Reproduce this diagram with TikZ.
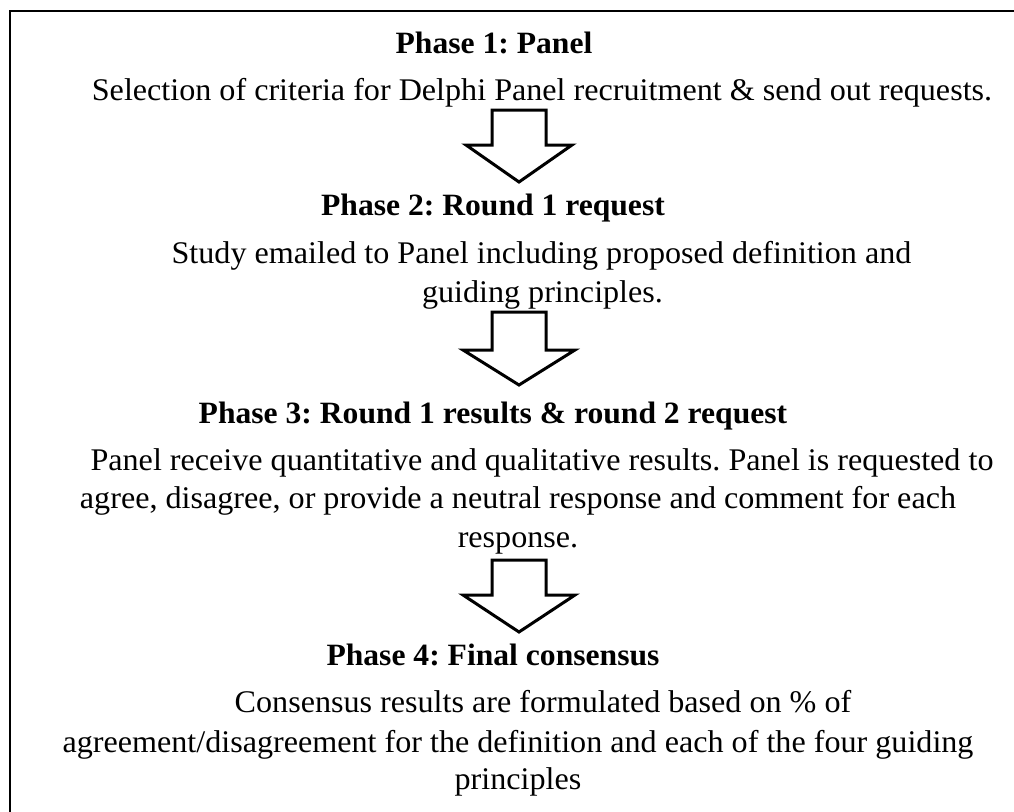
\documentclass[tikz,border=0pt]{standalone}
\usepackage{fontspec}
\setmainfont{Liberation Serif}[FakeStretch=1.02]
\frenchspacing
\tikzset{
  pics/blockarrow/.style args={#1/#2/#3}{code={
    \draw[blk] (-27,0) -- (27,0) -- (27,#1) -- (#3,#1) -- (0,#2) -- (-#3,#1) -- (-27,#1) -- cycle;
  }}
}
\begin{document}
\begin{tikzpicture}[x=1pt,y=-1pt,
  every node/.style={inner sep=0pt, outer sep=0pt, anchor=base},
  body/.style={font=\fontsize{31.5}{38}\selectfont},
  head/.style={font=\fontsize{31}{38}\selectfont\bfseries},
  blk/.style={draw=black, line width=3pt, line join=miter},
  frame/.style={draw=black, line width=1.2pt}]
\useasboundingbox (0,0) rectangle (1014,811);
\coordinate (fb) at (10,820);
\coordinate (fc) at (10,11);
\coordinate (fr) at (1024,11);
\draw[frame] (fb) -- (fc) -- (fr);
% arrows
\pic (a1) at (519,110) {blockarrow={35/72/53}};
\pic (a2) at (519,312) {blockarrow={38/73/56}};
\pic (a3) at (519,560) {blockarrow={35/72/56}};
% texts
\node[head] (t1) at (494,53) {Phase 1: Panel};
\node[body] (d1) at (542,100) {Selection of criteria for Delphi Panel recruitment \& send out requests.};
\node[head] (t2) at (493,215) {Phase 2: Round 1 request};
\node[body] (d2a) at (541.5,263) {Study emailed to Panel including proposed definition and};
\node[body] (d2b) at (542.5,302) {guiding principles.};
\node[head] (t3) at (493,423) {Phase 3: Round 1 results \& round 2 request};
\node[body] (d3a) at (542,470) {Panel receive quantitative and qualitative results. Panel is requested to};
\node[body] (d3b) at (518,508) {agree, disagree, or provide a neutral response and comment for each};
\node[body] (d3c) at (518,547) {response.};
\node[head] (t4) at (493,665) {Phase 4: Final consensus};
\node[body] (d4a) at (543,712) {Consensus results are formulated based on \% of};
\node[body] (d4b) at (518,752) {agreement/disagreement for the definition and each of the four guiding};
\node[body] (d4c) at (518,789) {principles};
\end{tikzpicture}
\end{document}
